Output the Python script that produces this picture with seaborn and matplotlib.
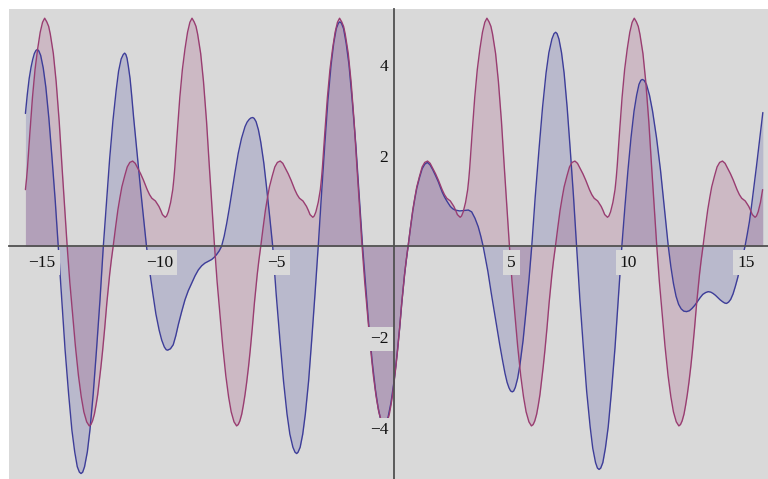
import matplotlib
matplotlib.use("Agg")
import matplotlib.pyplot as plt
import seaborn as sns
from matplotlib.ticker import FixedLocator

# ---- blue curve samples ----
blue_x = [
    -15.71, -15.63, -15.55, -15.47, -15.40, -15.33, -15.26, -15.20,
    -15.14, -15.06, -14.95, -14.84, -14.71, -14.58, -14.44, -14.31,
    -14.16, -14.02, -13.87, -13.73, -13.61, -13.50, -13.41, -13.34,
    -13.27, -13.19, -13.07, -12.96, -12.82, -12.68, -12.53, -12.39,
    -12.25, -12.12, -11.98, -11.84, -11.74, -11.63, -11.54, -11.48,
    -11.43, -11.38, -11.32, -11.25, -11.18, -11.10, -11.02, -10.95, -10.88, -10.80, -10.72, -10.65, -10.60, -10.55,
    -10.42, -10.28, -10.15, -10.01, -9.90, -9.79, -9.71, -9.65,
    -9.53, -9.41, -9.30, -9.19, -9.05, -8.91, -8.77, -8.63, -8.48, -8.34,
    -8.20, -8.06, -7.91, -7.77, -7.66, -7.56, -7.45, -7.35, -7.24, -7.13,
    -7.02, -6.92, -6.78, -6.64, -6.50, -6.35, -6.26, -6.17, -6.10, -6.02,
    -5.96, -5.88, -5.78, -5.68, -5.55, -5.43, -5.30, -5.17,
    -5.02, -4.86, -4.71, -4.56, -4.44, -4.31, -4.22, -4.15,
    -4.09, -4.00, -3.89, -3.78, -3.64, -3.51, -3.37, -3.23,
    -3.09, -2.95, -2.82, -2.68, -2.57, -2.46, -2.37, -2.31,
    -2.24, -2.15, -2.04, -1.92, -1.78, -1.63, -1.49, -1.34,
    -1.20, -1.07, -0.93, -0.79, -0.68, -0.58, -0.49, -0.43,
    -0.34, -0.25, -0.13, 0.00, 0.08, 0.15, 0.24, 0.33, 0.45, 0.52,
    0.60, 0.70, 0.80, 0.89, 0.97, 1.09, 1.20, 1.31, 1.42, 1.53,
    1.65, 1.77, 1.89, 2.05, 2.15, 2.25, 2.40, 2.50, 2.60, 2.80,
    3.00, 3.17, 3.31, 3.45, 3.59, 3.70, 3.80, 3.90, 4.00, 4.15,
    4.31, 4.50, 4.62, 4.73, 4.82, 4.90, 4.97, 5.04,
    5.10, 5.17, 5.27, 5.37, 5.50, 5.62, 5.75, 5.87,
    6.02, 6.18, 6.33, 6.48, 6.60, 6.73, 6.82, 6.89,
    6.95, 7.03, 7.14, 7.25, 7.38, 7.51, 7.65, 7.78,
    7.92, 8.07, 8.21, 8.36, 8.47, 8.59, 8.67, 8.74,
    8.81, 8.90, 9.01, 9.13, 9.27, 9.42, 9.56, 9.71,
    9.84, 9.97, 10.10, 10.23, 10.34, 10.44, 10.52, 10.58,
    10.66, 10.76, 10.89, 11.02, 11.19, 11.36, 11.52, 11.69,
    11.80, 11.91, 12.02, 12.13, 12.24, 12.35, 12.47,
    12.59, 12.70, 12.82, 12.93, 13.05, 13.16, 13.28, 13.39, 13.50, 13.60,
    13.70, 13.80, 13.90, 14.00, 14.09, 14.17, 14.26, 14.35, 14.45, 14.55,
    14.65, 14.75, 14.86, 14.96, 15.05, 15.15, 15.25, 15.35, 15.45, 15.55,
    15.64, 15.72]
blue_y = [
    2.93, 3.35, 3.70, 3.95, 4.12, 4.25, 4.32, 4.34,
    4.31, 4.21, 3.93, 3.51, 2.82, 1.97, 1.01, 0.00,
    -1.17, -2.28, -3.25, -4.05, -4.53, -4.86, -4.98, -5.01,
    -4.98, -4.86, -4.53, -4.05, -3.25, -2.28, -1.17, 0.00,
    0.99, 1.93, 2.77, 3.45, 3.86, 4.13, 4.23, 4.26,
    4.23, 4.15, 3.96, 3.70, 3.32, 2.85, 2.43, 2.05, 1.67, 1.25, 0.85, 0.50, 0.25, 0.00,
    -0.53, -1.04, -1.49, -1.85, -2.07, -2.22, -2.28, -2.29,
    -2.26, -2.17, -1.97, -1.72, -1.44, -1.18, -0.98, -0.82, -0.65, -0.52,
    -0.43, -0.37, -0.33, -0.29, -0.24, -0.18, -0.10, 0.00, 0.22, 0.51,
    0.84, 1.17, 1.62, 2.05, 2.38, 2.64, 2.74, 2.80, 2.83, 2.84,
    2.82, 2.75, 2.57, 2.30, 1.84, 1.29, 0.66, 0.00,
    -1.07, -2.08, -2.97, -3.70, -4.14, -4.43, -4.54, -4.57,
    -4.54, -4.43, -4.14, -3.70, -2.97, -2.08, -1.07, 0.00,
    1.15, 2.25, 3.21, 4.01, 4.48, 4.80, 4.92, 4.95,
    4.92, 4.80, 4.48, 4.01, 3.21, 2.25, 1.15, 0.00,
    -0.91, -1.78, -2.54, -3.17, -3.55, -3.80, -3.90, -3.92,
    -3.88, -3.76, -3.45, -2.98, -2.62, -2.28, -1.80, -1.25, -0.62, -0.32,
    0.00, 0.40, 0.78, 1.06, 1.28, 1.52, 1.71, 1.81, 1.85, 1.80,
    1.69, 1.56, 1.42, 1.20, 1.09, 1.00, 0.88, 0.83, 0.80, 0.78,
    0.79, 0.80, 0.76, 0.62, 0.43, 0.22, 0.00, -0.27, -0.55, -1.05,
    -1.55, -2.15, -2.50, -2.80, -3.00, -3.12, -3.19, -3.21,
    -3.19, -3.11, -2.91, -2.60, -2.08, -1.46, -0.75, 0.00,
    1.10, 2.14, 3.06, 3.82, 4.27, 4.57, 4.69, 4.72,
    4.69, 4.57, 4.27, 3.82, 3.06, 2.14, 1.10, 0.00,
    -1.15, -2.23, -3.19, -3.98, -4.45, -4.77, -4.89, -4.92,
    -4.89, -4.77, -4.45, -3.98, -3.19, -2.23, -1.15, 0.00,
    0.86, 1.67, 2.39, 2.98, 3.33, 3.57, 3.66, 3.68,
    3.66, 3.57, 3.33, 2.98, 2.39, 1.67, 0.86, 0.00,
    -0.45, -0.82, -1.10, -1.28, -1.38, -1.43, -1.44,
    -1.42, -1.37, -1.30, -1.22, -1.13, -1.06, -1.02, -1.00, -1.01, -1.04,
    -1.08, -1.13, -1.18, -1.22, -1.25, -1.26, -1.23, -1.17, -1.05, -0.88,
    -0.69, -0.47, -0.23, 0.00, 0.25, 0.55, 0.94, 1.35, 1.77, 2.20,
    2.58, 2.95]

# ---- red curve samples ----
red_x = [
    -15.71, -15.66, -15.62, -15.52, -15.41, -15.30, -15.19, -15.08, -14.98, -14.89,
    -14.80, -14.72, -14.65, -14.52, -14.40, -14.27, -14.15, -14.04, -13.93, -13.82,
    -13.70, -13.58, -13.45, -13.33, -13.22, -13.10, -12.99, -12.92, -12.85, -12.77,
    -12.70, -12.63,
    -12.57, -12.49, -12.42, -12.33, -12.24, -12.12, -12.05, -11.97, -11.87, -11.77,
    -11.68, -11.60, -11.48, -11.37, -11.26, -11.14, -11.03, -10.92, -10.80, -10.68,
    -10.52, -10.42, -10.32, -10.17, -10.02, -9.94, -9.87, -9.81, -9.75, -9.69,
    -9.62, -9.52, -9.43, -9.38, -9.34, -9.24, -9.13, -9.02, -8.91, -8.80,
    -8.70, -8.61, -8.52, -8.44, -8.37, -8.24, -8.12, -7.99, -7.87, -7.76,
    -7.65, -7.54, -7.42, -7.30, -7.17, -7.05, -6.94, -6.82, -6.71, -6.64,
    -6.57, -6.49, -6.42, -6.35,
    -6.28, -6.20, -6.13, -6.04, -5.95, -5.83, -5.76, -5.68, -5.58, -5.48,
    -5.39, -5.31, -5.19, -5.08, -4.97, -4.85, -4.74, -4.63, -4.51, -4.39,
    -4.23, -4.13, -4.03, -3.88, -3.73, -3.65, -3.58, -3.52, -3.46, -3.40,
    -3.33, -3.23, -3.14, -3.09, -3.05, -2.95, -2.84, -2.73, -2.62, -2.51,
    -2.41, -2.32, -2.23, -2.15, -2.08, -1.95, -1.83, -1.70, -1.58, -1.47,
    -1.36, -1.25, -1.13, -1.01, -0.88, -0.76, -0.65, -0.53, -0.43, -0.35,
    -0.28, -0.20, -0.13, -0.06,
    0.00, 0.08, 0.15, 0.24, 0.33, 0.45, 0.52, 0.60, 0.70, 0.80,
    0.89, 0.97, 1.09, 1.20, 1.31, 1.43, 1.54, 1.65, 1.77, 1.89,
    2.05, 2.15, 2.25, 2.40, 2.55, 2.63, 2.70, 2.76, 2.82, 2.88,
    2.95, 3.05, 3.14, 3.19, 3.23, 3.33, 3.44, 3.55, 3.66, 3.77,
    3.87, 3.96, 4.05, 4.13, 4.20, 4.33, 4.45, 4.58, 4.70, 4.81,
    4.92, 5.03, 5.15, 5.27, 5.40, 5.52, 5.63, 5.75, 5.855, 5.93,
    6.00, 6.08, 6.15, 6.22,
    6.28, 6.36, 6.43, 6.52, 6.61, 6.73, 6.80, 6.88, 6.98, 7.08,
    7.17, 7.25, 7.37, 7.48, 7.59, 7.71, 7.82, 7.93, 8.05, 8.17,
    8.33, 8.43, 8.53, 8.68, 8.83, 8.91, 8.98, 9.04, 9.10, 9.16,
    9.23, 9.33, 9.42, 9.47, 9.51, 9.61, 9.72, 9.83, 9.94, 10.05,
    10.15, 10.24, 10.33, 10.41, 10.48, 10.61, 10.73, 10.86, 10.98, 11.09,
    11.20, 11.31, 11.43, 11.55, 11.68, 11.80, 11.91, 12.03, 12.14, 12.21,
    12.28, 12.36, 12.43, 12.50,
    12.57, 12.65, 12.72, 12.81, 12.90, 13.02, 13.09, 13.17, 13.27, 13.37,
    13.46, 13.54, 13.66, 13.77, 13.88, 14.00, 14.11, 14.22, 14.34, 14.46,
    14.62, 14.72, 14.82, 14.97, 15.12, 15.20, 15.27, 15.33, 15.39, 15.45,
    15.52, 15.62, 15.71]
red_y = [
    1.25, 1.50, 1.75, 2.50, 3.28, 3.90, 4.35, 4.72, 4.94, 5.03,
    4.95, 4.85, 4.68, 4.25, 3.63, 2.75, 1.75, 0.88, 0.00, -0.78,
    -1.50, -2.20, -2.85, -3.32, -3.65, -3.87, -3.96, -3.93, -3.85, -3.70,
    -3.50, -3.27,
    -3.00, -2.65, -2.30, -1.80, -1.25, -0.62, -0.31, 0.00, 0.41, 0.80,
    1.08, 1.31, 1.55, 1.75, 1.85, 1.88, 1.83, 1.72, 1.60, 1.46,
    1.25, 1.14, 1.06, 1.00, 0.88, 0.79, 0.70, 0.67, 0.64, 0.67,
    0.76, 0.97, 1.25, 1.50, 1.75, 2.50, 3.28, 3.90, 4.35, 4.72,
    4.94, 5.03, 4.95, 4.85, 4.68, 4.25, 3.63, 2.75, 1.75, 0.88,
    0.00, -0.78, -1.50, -2.20, -2.85, -3.32, -3.65, -3.87, -3.96, -3.93,
    -3.85, -3.70, -3.50, -3.27,
    -3.00, -2.65, -2.30, -1.80, -1.25, -0.62, -0.31, 0.00, 0.41, 0.80,
    1.08, 1.31, 1.55, 1.75, 1.85, 1.88, 1.83, 1.72, 1.60, 1.46,
    1.25, 1.14, 1.06, 1.00, 0.88, 0.79, 0.70, 0.67, 0.64, 0.67,
    0.76, 0.97, 1.25, 1.50, 1.75, 2.50, 3.28, 3.90, 4.35, 4.72,
    4.94, 5.03, 4.95, 4.85, 4.68, 4.25, 3.63, 2.75, 1.75, 0.88,
    0.00, -0.78, -1.50, -2.20, -2.85, -3.32, -3.65, -3.87, -3.96, -3.93,
    -3.85, -3.70, -3.50, -3.27,
    -3.00, -2.65, -2.30, -1.80, -1.25, -0.62, -0.31, 0.00, 0.41, 0.80,
    1.08, 1.31, 1.55, 1.75, 1.85, 1.88, 1.83, 1.72, 1.60, 1.46,
    1.25, 1.14, 1.06, 1.00, 0.88, 0.79, 0.70, 0.67, 0.64, 0.67,
    0.76, 0.97, 1.25, 1.50, 1.75, 2.50, 3.28, 3.90, 4.35, 4.72,
    4.94, 5.03, 4.95, 4.85, 4.68, 4.25, 3.63, 2.75, 1.75, 0.88,
    0.00, -0.78, -1.50, -2.20, -2.85, -3.32, -3.65, -3.87, -3.96, -3.93,
    -3.85, -3.70, -3.50, -3.27,
    -3.00, -2.65, -2.30, -1.80, -1.25, -0.62, -0.31, 0.00, 0.41, 0.80,
    1.08, 1.31, 1.55, 1.75, 1.85, 1.88, 1.83, 1.72, 1.60, 1.46,
    1.25, 1.14, 1.06, 1.00, 0.88, 0.79, 0.70, 0.67, 0.64, 0.67,
    0.76, 0.97, 1.25, 1.50, 1.75, 2.50, 3.28, 3.90, 4.35, 4.72,
    4.94, 5.03, 4.95, 4.85, 4.68, 4.25, 3.63, 2.75, 1.75, 0.88,
    0.00, -0.78, -1.50, -2.20, -2.85, -3.32, -3.65, -3.87, -3.96, -3.93,
    -3.85, -3.70, -3.50, -3.27,
    -3.00, -2.65, -2.30, -1.80, -1.25, -0.62, -0.31, 0.00, 0.41, 0.80,
    1.08, 1.31, 1.55, 1.75, 1.85, 1.88, 1.83, 1.72, 1.60, 1.46,
    1.25, 1.14, 1.06, 1.00, 0.88, 0.79, 0.70, 0.67, 0.64, 0.67,
    0.76, 0.97, 1.25]

# ---- ticks ----
x_major = [-15, -10, -5, 5, 10, 15]
x_labels = ["\u221215", "\u221210", "\u22125", "5", "10", "15"]
x_minor = [-16, -14, -13, -12, -11, -9, -8, -7, -6, -4, -3, -2, -1,
           1, 2, 3, 4, 6, 7, 8, 9, 11, 12, 13, 14]
y_major = [-4, -2, 2, 4]
y_labels = ["\u22124", "\u22122", "2", "4"]
y_minor = [-5, -4.5, -3.5, -3, -2.5, -1.5, -1, -0.5,
           0.5, 1, 1.5, 2.5, 3, 3.5, 4.5, 5]

BG = "#d9d9d9"
BLUE = (0.24, 0.24, 0.6)
RED = (0.6, 0.24, 0.442)
AXIS = "#505050"

sns.set_theme(style="white")
plt.rcParams["font.family"] = ["Liberation Serif", "DejaVu Serif"]

fig = plt.figure(figsize=(7.68, 4.79), dpi=100, facecolor="white")
ax = fig.add_axes([9 / 768, 0, 759 / 768, 470 / 479])
ax.set_facecolor(BG)

# filled areas down to the axis
ax.fill_between(blue_x, blue_y, 0, color=BLUE, alpha=0.2, linewidth=0, zorder=1)
ax.fill_between(red_x, red_y, 0, color=RED, alpha=0.2, linewidth=0, zorder=1)

# curves
sns.lineplot(x=blue_x, y=blue_y, color=BLUE, linewidth=1.0, sort=False,
             estimator=None, ax=ax, zorder=2, solid_joinstyle="round")
sns.lineplot(x=red_x, y=red_y, color=RED, linewidth=1.0, sort=False,
             estimator=None, ax=ax, zorder=2, solid_joinstyle="round")

ax.set_xlim(-16.41, 15.94)
ax.set_ylim(-5.131, 5.233)
ax.set_xlabel("")
ax.set_ylabel("")
ax.grid(False)

# axes through the origin
for side in ("top", "right"):
    ax.spines[side].set_visible(False)
ax.spines["left"].set_position(("data", 0))
ax.spines["bottom"].set_position(("data", 0))
for side in ("left", "bottom"):
    ax.spines[side].set_color(AXIS)
    ax.spines[side].set_linewidth(1.3)
    ax.spines[side].set_zorder(3)

ax.set_xticks(x_major)
ax.set_xticklabels(x_labels)
ax.xaxis.set_minor_locator(FixedLocator(x_minor))
ax.set_yticks(y_major)
ax.set_yticklabels(y_labels)
ax.yaxis.set_minor_locator(FixedLocator(y_minor))

ax.tick_params(which="major", direction="in", length=4, width=0.8,
               color=AXIS, labelsize=12.5, labelcolor="#111111")
ax.tick_params(which="minor", direction="in", length=2.5, width=0.7, color=AXIS)
ax.tick_params(axis="x", which="major", pad=6)
ax.tick_params(axis="y", which="major", pad=4)
ax.set_axisbelow(False)

# tick labels sit on opaque boxes that mask the curves beneath them
for lbl in ax.get_xticklabels() + ax.get_yticklabels():
    lbl.set_bbox(dict(boxstyle="square,pad=0.24", facecolor=BG, edgecolor="none"))
    lbl.set_zorder(4)

fig.savefig("out.png", dpi=100, facecolor="white")
